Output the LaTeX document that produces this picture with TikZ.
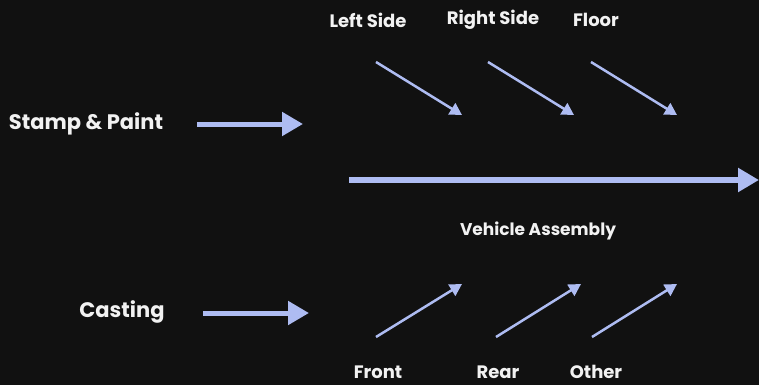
\documentclass[tikz,border=0pt]{standalone}
\usepackage{fontspec}
\setmainfont{Poppins}
\usetikzlibrary{arrows.meta, positioning}
\definecolor{bgdark}{HTML}{111111}
\definecolor{bonefill}{HTML}{AEBCF2}
\definecolor{labelwhite}{HTML}{F2F2F2}
\tikzset{
  biglabel/.style   = {font=\bfseries\fontsize{21}{25}\selectfont, text=labelwhite, inner sep=0pt},
  smalllabel/.style = {font=\bfseries\fontsize{18}{22}\selectfont, text=labelwhite, inner sep=0pt},
  spinelabel/.style = {smalllabel, font=\bfseries\fontsize{17}{21}\selectfont},
  feed/.style       = {-{Triangle[length=21pt,width=23pt]}, line width=5pt, draw=bonefill},
  spine/.style      = {feed, line width=6pt},
  bone/.style       = {-{Triangle[length=12pt,width=13pt]}, line width=2.5pt, draw=bonefill},
}

\begin{document}
\begin{tikzpicture}[x=1pt, y=-1pt]
  \fill[bgdark] (0,0) rectangle (759,385);
  \useasboundingbox (0,0) rectangle (759,385);

  % process inputs
  \node[biglabel] (stamp) at (86,124) {Stamp \& Paint};
  \node[biglabel] (casting) at (122,312) {Casting};
  \coordinate (stampA) at (197,124);
  \coordinate (stampB) at (303,124);
  \coordinate (castA) at (203,313);
  \coordinate (castB) at (309,313);
  \draw[feed] (stampA) -- (stampB);
  \draw[feed] (castA) -- (castB);

  % main spine
  \coordinate (spineA) at (349,180);
  \coordinate (spineB) at (759,180);
  \draw[spine] (spineA) -- (spineB);
  \node[spinelabel] (assembly) at (538,231) {Vehicle Assembly};

  % upper bones
  \node[smalllabel] (left) at (368,20) {Left Side};
  \node[smalllabel] (right) at (493,20) {Right Side};
  \node[smalllabel] (floor) at (596,20) {Floor};
  \coordinate (leftA) at (376,62);   \coordinate (leftB) at (462,115);
  \coordinate (rightA) at (488,62);  \coordinate (rightB) at (574,115);
  \coordinate (floorA) at (591,62);  \coordinate (floorB) at (677,115);
  \draw[bone] (leftA) -- (leftB);
  \draw[bone] (rightA) -- (rightB);
  \draw[bone] (floorA) -- (floorB);

  % lower bones
  \node[smalllabel] (front) at (378,372) {Front};
  \node[smalllabel] (rear) at (498,372) {Rear};
  \node[smalllabel] (other) at (596,372) {Other};
  \coordinate (frontA) at (376,337); \coordinate (frontB) at (462,284);
  \coordinate (rearA) at (496,337);  \coordinate (rearB) at (581,284);
  \coordinate (otherA) at (592,337); \coordinate (otherB) at (677,284);
  \draw[bone] (frontA) -- (frontB);
  \draw[bone] (rearA) -- (rearB);
  \draw[bone] (otherA) -- (otherB);
\end{tikzpicture}
\end{document}
